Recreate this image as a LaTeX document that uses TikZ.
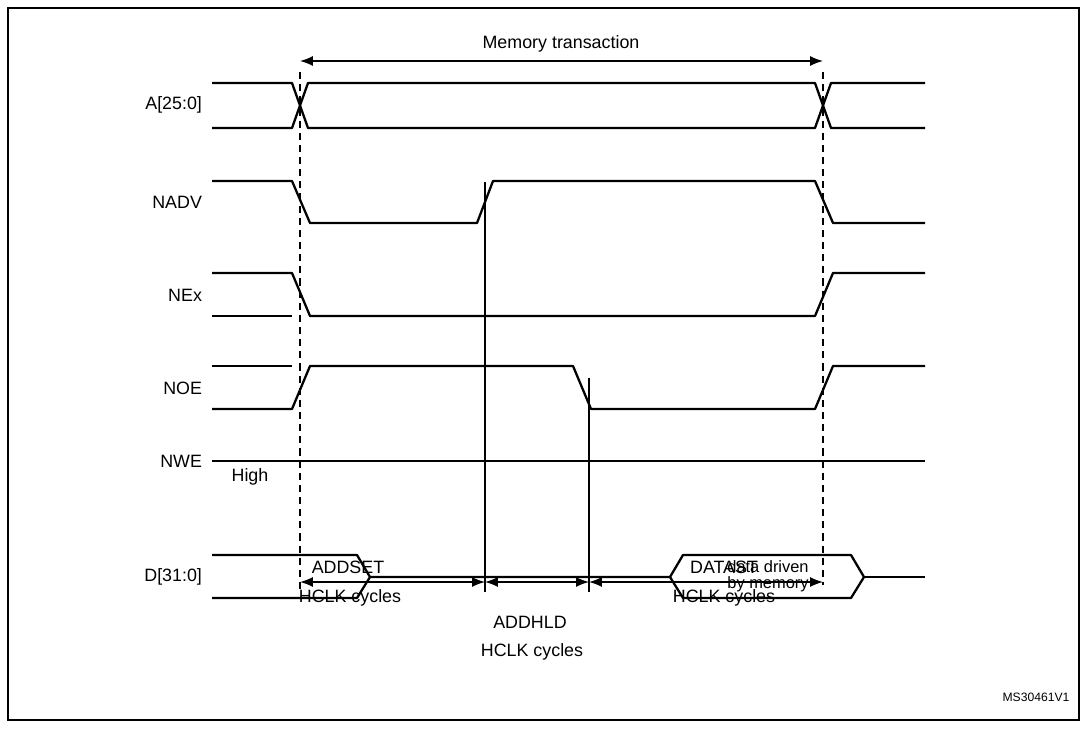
\documentclass[tikz,border=0pt]{standalone}
\usepackage{fontspec}
\setmainfont{Liberation Sans}
\usetikzlibrary{arrows.meta, positioning}
\tikzstyle{signal} = [line width=1.6pt, line join=round]
\tikzstyle{marker} = [line width=0.8pt]
\tikzstyle{dashmark} = [line width=0.8pt, dash pattern=on 5pt off 3.5pt]
\tikzstyle{span} = [line width=1pt, {Latex[length=9pt,width=7pt]}-{Latex[length=9pt,width=7pt]}]
\tikzstyle{signame} = [anchor=east, font=\fontsize{12.5}{14}\selectfont]
\tikzstyle{lbl} = [align=center, font=\fontsize{12.5}{13.5}\selectfont]

\begin{document}
\begin{tikzpicture}[x=0.7pt, y=-0.7pt]

    % Frame
    \useasboundingbox (0,0) rectangle (1087,730);
    \draw [line width=0.8pt] (8,8) rectangle (1079,720);

    % Signal names
    \node (a) [signame] at (207,105) {A[25:0]};
    \node (nadv) [signame] at (207,202) {NADV};
    \node (nex) [signame] at (207,295) {NEx};
    \node (noe) [signame] at (207,388) {NOE};
    \node (nwe) [signame] at (207,461) {NWE};
    \node (high) [lbl] at (250,477) {High};
    \node (d) [signame] at (207,577) {D[31:0]};

    % Waveforms
    \draw [signal] (212,83) -- (292,83) -- (308,128) -- (815,128) -- (831,83) -- (925,83);
    \draw [signal] (212,128) -- (292,128) -- (308,83) -- (815,83) -- (831,128) -- (925,128);
    \draw [signal] (212,181) -- (292,181) -- (310,223) -- (477,223) -- (493,181)
                   -- (815,181) -- (833,223) -- (925,223);
    \draw [signal] (212,273) -- (292,273) -- (310,316) -- (815,316) -- (833,273) -- (925,273);
    \draw [signal] (212,316) -- (292,316);
    \draw [signal] (212,409) -- (292,409) -- (310,366) -- (573,366) -- (591,409)
                   -- (815,409) -- (833,366) -- (925,366);
    \draw [signal] (212,366) -- (292,366);
    \draw [signal] (212,461) -- (925,461);
    \draw [signal] (212,555) -- (357,555) -- (370,577) -- (357,598) -- (212,598);
    \draw [signal] (370,577) -- (670,577) -- (683,555) -- (851,555) -- (864,577)
                   -- (851,598) -- (683,598) -- (670,577);
    \draw [signal] (864,577) -- (925,577);
    \node (data) [lbl, font=\fontsize{11.5}{11}\selectfont] at (768,576) {data driven\\by memory};

    % Markers
    \coordinate (t0) at (300,72);
    \coordinate (t1) at (485,182);
    \coordinate (t2) at (589,378);
    \coordinate (t3) at (823,72);
    \draw [dashmark] (t0) -- ++(0,518);
    \draw [dashmark] (t3) -- ++(0,513);
    \draw [marker] (t1) -- ++(0,410);
    \draw [marker] (t2) -- ++(0,214);

    % Spans
    \coordinate (m0) at (300,61);
    \coordinate (m1) at (823,61);
    \draw [span] (m0) -- (m1);
    \node (memtr) [lbl] at (561,44) {Memory transaction};
    \coordinate (s0) at (300,582);
    \coordinate (s1) at (485,582);
    \coordinate (s2) at (589,582);
    \coordinate (s3) at (823,582);
    \draw [span] (s0) -- (s1);
    \draw [span] (s1) -- (s2);
    \draw [span] (s2) -- (s3);
    \node (addset) [lbl] at (348,567) {ADDSET};
    \node (addsetc) [lbl] at (350,598) {HCLK cycles};
    \node (addhld) [lbl] at (530,622) {ADDHLD};
    \node (addhldc) [lbl] at (532,652) {HCLK cycles};
    \node (datast) [lbl] at (724,567) {DATAST};
    \node (datastc) [lbl] at (724,598) {HCLK cycles};

    \node (ref) [lbl, font=\fontsize{8.5}{10}\selectfont] at (1036,697) {MS30461V1};

\end{tikzpicture}
\end{document}
